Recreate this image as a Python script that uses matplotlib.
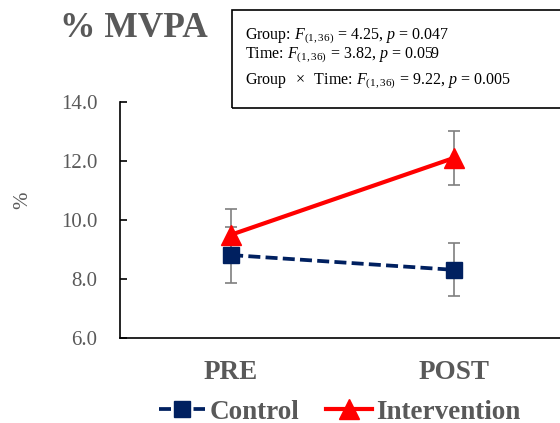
import matplotlib.pyplot as plt
from matplotlib.patches import Rectangle

plt.rcParams['font.family'] = 'Liberation Serif'
plt.rcParams['mathtext.fontset'] = 'custom'
plt.rcParams['mathtext.rm'] = 'Liberation Serif'
plt.rcParams['mathtext.it'] = 'Liberation Serif:italic'

times = ['PRE', 'POST']
control = [8.81, 8.31]
control_err = [0.95, 0.90]
intervention = [9.5, 12.1]
intervention_err = [0.87, 0.92]
yticks = [6.0, 8.0, 10.0, 12.0, 14.0]

gray = '#595959'
navy = '#002060'
red = '#FF0000'

fig = plt.figure(figsize=(5.6, 4.23), dpi=100)
ax = fig.add_axes([0.214, 0.201, 0.795, 0.558])

x = range(len(times))
ax.errorbar(x, control, yerr=control_err, fmt='none', ecolor='#7f7f7f',
            elinewidth=1.2, capsize=4, capthick=1.2, zorder=1)
ax.errorbar(x, intervention, yerr=intervention_err, fmt='none', ecolor='#7f7f7f',
            elinewidth=1.2, capsize=4, capthick=1.2, zorder=1)
ax.plot(x, intervention, color=red, lw=3, marker='^', ms=14, label='Intervention', zorder=3)
ax.plot(x, control, color=navy, lw=2.7, ls=(0, (3.2, 1.4)), marker='s', ms=12,
        label='Control', zorder=4)

ax.set_xlim(-0.5, 1.5)
ax.set_ylim(6, 14)
ax.set_yticks(yticks)
ax.set_yticklabels(['%.1f' % v for v in yticks], fontsize=15, color=gray)
ax.set_xticks(list(x))
ax.set_xticklabels(times, fontsize=19.5, fontweight='bold', color=gray)
ax.tick_params(axis='x', length=0, pad=16)
ax.tick_params(axis='y', direction='in', length=5, width=1.2, pad=16)
for s in ['top', 'right']:
    ax.spines[s].set_visible(False)
for s in ['left', 'bottom']:
    ax.spines[s].set_linewidth(1.2)

fig.text(0.04, 0.527, '%', rotation=90, fontsize=15, color=gray, ha='center', va='center')
fig.text(0.108, 0.932, '% MVPA', fontsize=25.5, fontweight='bold', color=gray, va='center')

fig.patches.append(Rectangle((0.414, 0.745), 0.6, 0.231, transform=fig.transFigure,
                             fill=False, edgecolor='black', lw=1.2))
fig.text(0.437, 0.914, r'Group: $\it{F}_{(1,36)}$ = 4.25, $\it{p}$ = 0.047', fontsize=11.5, va='center')
fig.text(0.437, 0.869, r'Time: $\it{F}_{(1,36)}$ = 3.82, $\it{p}$ = 0.059', fontsize=11.5, va='center')
fig.text(0.437, 0.808, r'Group $\;\times\;$ Time: $\it{F}_{(1,36)}$ = 9.22, $\it{p}$ = 0.005', fontsize=11.5, va='center')

h, l = ax.get_legend_handles_labels()
leg = fig.legend(h[::-1], l[::-1], loc='center', bbox_to_anchor=(0.607, 0.026), ncol=2,
                 frameon=False, handlelength=1.7, handletextpad=0.15, columnspacing=1.0,
                 prop={'size': 19.5, 'weight': 'bold'})
for t in leg.get_texts():
    t.set_color(gray)

fig.savefig('out.png', dpi=100)
